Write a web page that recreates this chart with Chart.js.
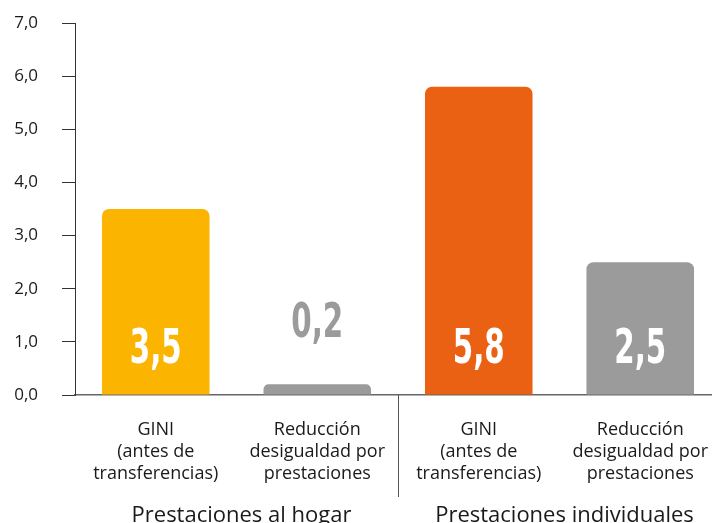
<!DOCTYPE html>
<html lang="es">
<head>
<meta charset="utf-8">
<title>Reducción de la desigualdad por prestaciones</title>
<script src="https://cdn.jsdelivr.net/npm/chart.js@4/dist/chart.umd.min.js"></script>
<style>
  html, body { margin: 0; padding: 0; background: #fff; overflow: hidden; }
  #wrap { position: relative; width: 724px; height: 523px; }
</style>
</head>
<body>
<div id="wrap"><canvas id="grafico-gini"></canvas></div>
<script>
/* Índice GINI antes de transferencias y reducción de desigualdad,
   por tipo de prestación (hogar / individual). */

const categorias = [
  ['GINI', '(antes de', 'transferencias)'],
  ['Reducción', 'desigualdad por', 'prestaciones'],
  ['GINI', '(antes de', 'transferencias)'],
  ['Reducción', 'desigualdad por', 'prestaciones']
];
const grupos = ['Prestaciones al hogar', 'Prestaciones individuales'];
const valores = [3.5, 0.2, 5.8, 2.5];
const colores = ['#fbb400', '#9b9b9b', '#eb6113', '#9b9b9b'];
const yMin = 0, yMax = 7, yPaso = 1;

const fuente = '"Open Sans", Lato, sans-serif';
const fmt = (v) => v.toFixed(1).replace('.', ',');

/* etiquetas de valor: blancas dentro de la barra, grises encima si no caben */
const etiquetasValor = {
  id: 'etiquetasValor',
  afterDatasetsDraw(chart) {
    const { ctx, scales: { y } } = chart;
    const meta = chart.getDatasetMeta(0);
    ctx.save();
    ctx.font = 'bold 48px "DejaVu Sans Condensed", "DejaVu Sans", sans-serif';
    ctx.textAlign = 'center';
    ctx.textBaseline = 'middle';
    meta.data.forEach((bar, i) => {
      const v = valores[i];
      const dentro = v >= 1.6;
      const cy = dentro ? y.getPixelForValue(0.83) : y.getPixelForValue(1.32);
      ctx.fillStyle = dentro ? '#ffffff' : '#9b9b9b';
      ctx.save();
      ctx.translate(bar.x, cy);
      ctx.scale(0.68, 1);
      ctx.fillText(fmt(v), 0, 0);
      ctx.restore();
    });
    ctx.restore();
  }
};

/* separador entre grupos y títulos de grupo bajo el eje */
const grupoEje = {
  id: 'grupoEje',
  afterDraw(chart) {
    const { ctx, scales: { x }, chartArea } = chart;
    const sep = (x.getPixelForValue(1) + x.getPixelForValue(2)) / 2;
    ctx.save();
    ctx.strokeStyle = '#555555';
    ctx.lineWidth = 1;
    ctx.beginPath();
    ctx.moveTo(Math.round(sep) + 0.5, chartArea.bottom);
    ctx.lineTo(Math.round(sep) + 0.5, chartArea.bottom + 102);
    ctx.stroke();

    ctx.font = '22px ' + fuente;
    ctx.fillStyle = '#1a1a1a';
    ctx.textAlign = 'center';
    ctx.textBaseline = 'alphabetic';
    grupos.forEach((g, k) => {
      const cx = (x.getPixelForValue(2 * k) + x.getPixelForValue(2 * k + 1)) / 2 + 5;
      ctx.fillText(g, cx, chartArea.bottom + 127);
    });
    ctx.restore();
  }
};

new Chart(document.getElementById('grafico-gini'), {
  type: 'bar',
  data: {
    labels: categorias,
    datasets: [{
      data: valores,
      backgroundColor: colores,
      borderRadius: { topLeft: 7, topRight: 7 },
      borderSkipped: 'bottom',
      categoryPercentage: 1,
      barPercentage: 0.666
    }]
  },
  options: {
    responsive: true,
    maintainAspectRatio: false,
    animation: false,
    layout: { padding: { top: 23, left: 0, right: 0, bottom: 0 } },
    plugins: {
      legend: { display: false },
      tooltip: { enabled: false }
    },
    scales: {
      x: {
        grid: { display: false },
        border: { color: '#666666', width: 1.5 },
        ticks: {
          color: '#1a1a1a',
          font: { family: fuente, size: 18, lineHeight: 1.22 },
          padding: 16,
          maxRotation: 0,
          autoSkip: false
        },
        afterFit: (s) => { s.height = 128; }
      },
      y: {
        min: yMin,
        max: yMax,
        grid: { drawOnChartArea: false, drawTicks: true, tickLength: 13, color: '#333333' },
        border: { color: '#333333', width: 1 },
        ticks: {
          stepSize: yPaso,
          color: '#1a1a1a',
          padding: 24,
          font: { family: fuente, size: 17, weight: '500' },
          callback: (v) => fmt(v)
        },
        afterFit: (s) => {
          s.width = 75;
          // el hueco de las etiquetas no debe empujar el área del gráfico
          s.paddingTop = 0;
          s.paddingBottom = 0;
        }
      }
    }
  },
  plugins: [etiquetasValor, grupoEje]
});
</script>
</body>
</html>
